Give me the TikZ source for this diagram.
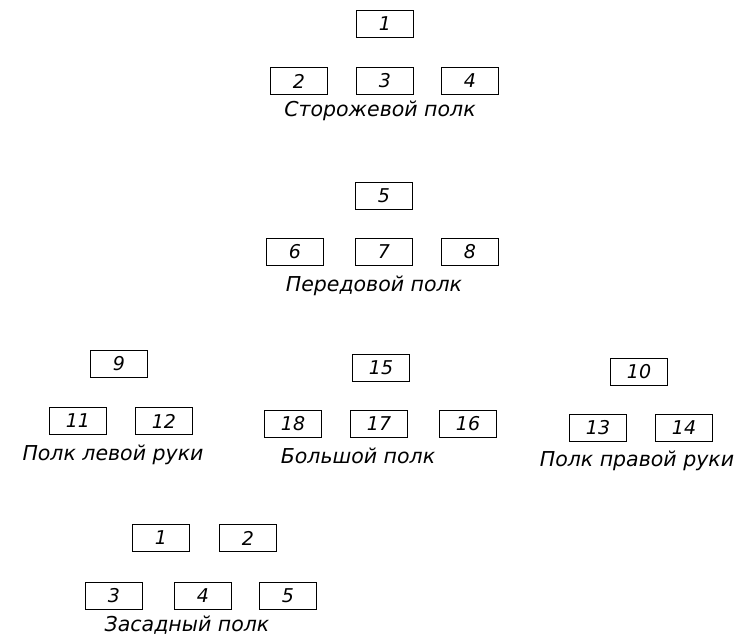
\documentclass[tikz,border=0pt]{standalone}
\usepackage{fontspec}
\setmainfont{DejaVu Sans}

\begin{document}
\begin{tikzpicture}[x=1pt, y=-1pt,
    unit/.style={draw, line width=1.8pt, minimum width=57pt, minimum height=27pt,
      inner sep=0pt, font=\fontsize{19}{19}\selectfont\itshape},
    caption/.style={anchor=base, font=\fontsize{20.5}{24}\selectfont\itshape}]

  \useasboundingbox (0,0) rectangle (741,641);

  % Сторожевой полк
  \node[unit] (s1) at (385,24) {1};
  \foreach \i/\x in {2/299, 3/385, 4/470}
    \node[unit] (s\i) at (\x,81) {\i};
  \node[caption] (slabel) at (380,116) {Сторожевой полк};

  % Передовой полк
  \node[unit] (p5) at (384,196) {5};
  \foreach \i/\x in {6/295, 7/384, 8/470}
    \node[unit] (p\i) at (\x,252) {\i};
  \node[caption] (plabel) at (374,291) {Передовой полк};

  % Полк левой руки
  \node[unit] (l9) at (119,364) {9};
  \foreach \i/\x in {11/78, 12/164}
    \node[unit] (l\i) at (\x,421) {\i};
  \node[caption] (llabel) at (113,460) {Полк левой руки};

  % Большой полк
  \node[unit] (b15) at (381,368) {15};
  \foreach \i/\x in {18/293, 17/379, 16/468}
    \node[unit] (b\i) at (\x,424) {\i};
  \node[caption] (blabel) at (358,463) {Большой полк};

  % Полк правой руки
  \node[unit] (r10) at (639,372) {10};
  \foreach \i/\x in {13/598, 14/684}
    \node[unit] (r\i) at (\x,428) {\i};
  \node[caption] (rlabel) at (637,466) {Полк правой руки};

  % Засадный полк
  \foreach \i/\x in {1/161, 2/248}
    \node[unit] (z\i) at (\x,538) {\i};
  \foreach \i/\x in {3/114, 4/203, 5/288}
    \node[unit] (z\i) at (\x,596) {\i};
  \node[caption] (zlabel) at (187,631) {Засадный полк};

\end{tikzpicture}
\end{document}
